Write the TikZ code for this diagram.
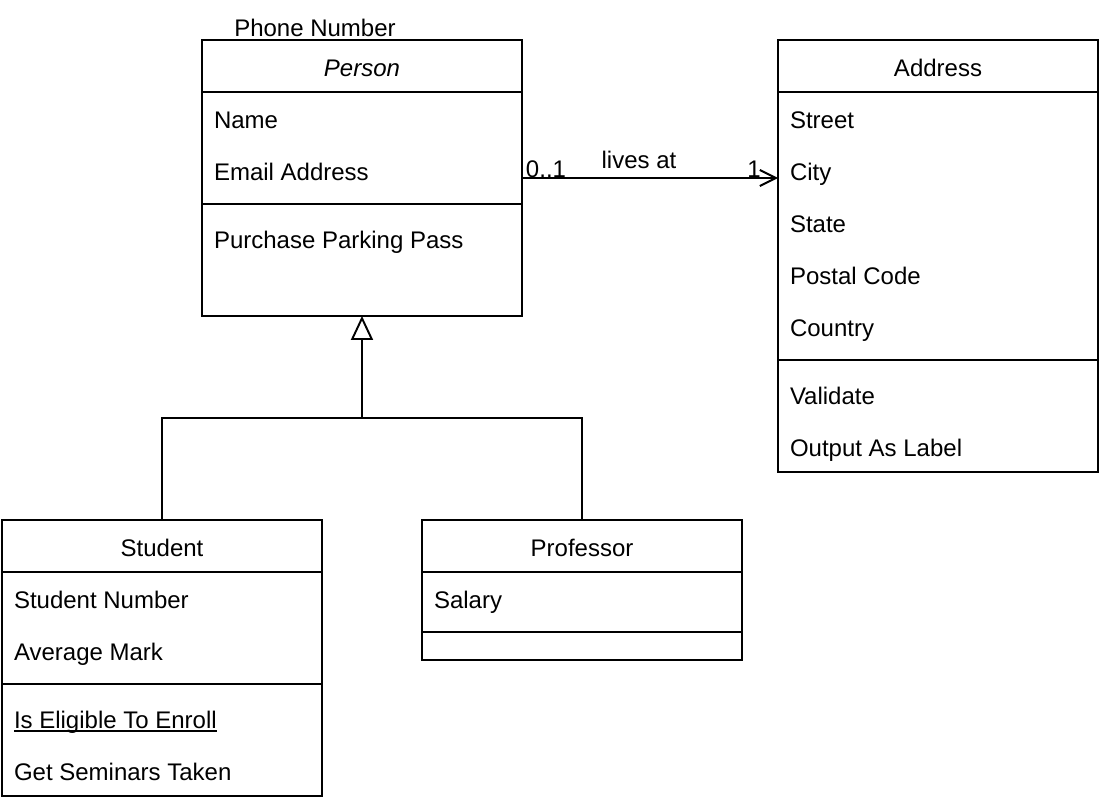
\documentclass[tikz,border=0pt]{standalone}
\usepackage{fontspec}
\setmainfont{Liberation Sans}
\usetikzlibrary{arrows.meta,calc}
\begin{document}
\begin{tikzpicture}[x=0.02cm,y=-0.02cm,
  every node/.style={font=\fontsize{13.66}{16}\selectfont, inner sep=0pt, outer sep=0pt, text height=0.716em, text depth=0pt},
  txt/.style={yshift=-0.04cm},
  box/.style={draw, line width=1.1pt, minimum width=6.4cm, rectangle},
  attr/.style={anchor=west, txt},
  sep/.style={line width=1.1pt},
  conn/.style={line width=1.1pt}]
\useasboundingbox (0,0) rectangle (1101,804);
% Person
\node[box, minimum height=5.52cm, anchor=north west] (person) at (202,40) {};
\draw[sep] (202,92) -- (522,92);
\draw[sep] (202,204) -- (522,204);
\node[txt] (ptitle) at (362,68) {\itshape Person};
\node[attr] (pname) at (214,120) {Name};
\node[attr] (pemail) at (214,172) {Email Address};
\node[attr] (ppark) at (214,240) {Purchase Parking Pass};
\node[txt] (phone) at (315,28) {Phone Number};
% Address
\node[box, minimum height=8.64cm, anchor=north west] (address) at (778,40) {};
\draw[sep] (778,92) -- (1098,92);
\draw[sep] (778,360) -- (1098,360);
\node[txt] (atitle) at (938,68) {Address};
\node[attr] (a1) at (790,120) {Street};
\node[attr] (a2) at (790,172) {City};
\node[attr] (a3) at (790,224) {State};
\node[attr] (a4) at (790,276) {Postal Code};
\node[attr] (a5) at (790,328) {Country};
\node[attr] (a6) at (790,396) {Validate};
\node[attr] (a7) at (790,448) {Output As Label};
% Student
\node[box, minimum height=5.52cm, anchor=north west] (student) at (2,520) {};
\draw[sep] (2,572) -- (322,572);
\draw[sep] (2,684) -- (322,684);
\node[txt] (stitle) at (162,548) {Student};
\node[attr] (s1) at (14,600) {Student Number};
\node[attr] (s2) at (14,652) {Average Mark};
\node[attr] (s3) at (14,720) {Is Eligible To Enroll};
\draw[line width=1.1pt] ($(s3.base west)+(0,3)$) -- ($(s3.base east)+(0,3)$);
\node[attr] (s4) at (14,772) {Get Seminars Taken};
% Professor
\node[box, minimum height=2.8cm, anchor=north west] (prof) at (422,520) {};
\draw[sep] (422,572) -- (742,572);
\draw[sep] (422,632) -- (742,632);
\node[txt] (prtitle) at (582,548) {Professor};
\node[attr] (pr1) at (434,600) {Salary};
% Generalization
\coordinate (junc) at (362,418);
\draw[conn] (student.north) |- (junc) -| (prof.north);
\draw[conn, -{Triangle[open, width=0.44cm, length=0.48cm, line width=1.1pt]}] (junc) -- (person.south);
% Association
\draw[conn, -{Straight Barb[length=0.32cm, width=0.32cm, line width=1.1pt]}] (person.east |- 0,178) -- (address.west |- 0,178);
\node[txt] (m1) at (546,169) {0..1};
\node[txt] (m2) at (639,160) {lives at};
\node[txt] (m3) at (754,169) {1};
\end{tikzpicture}
\end{document}
